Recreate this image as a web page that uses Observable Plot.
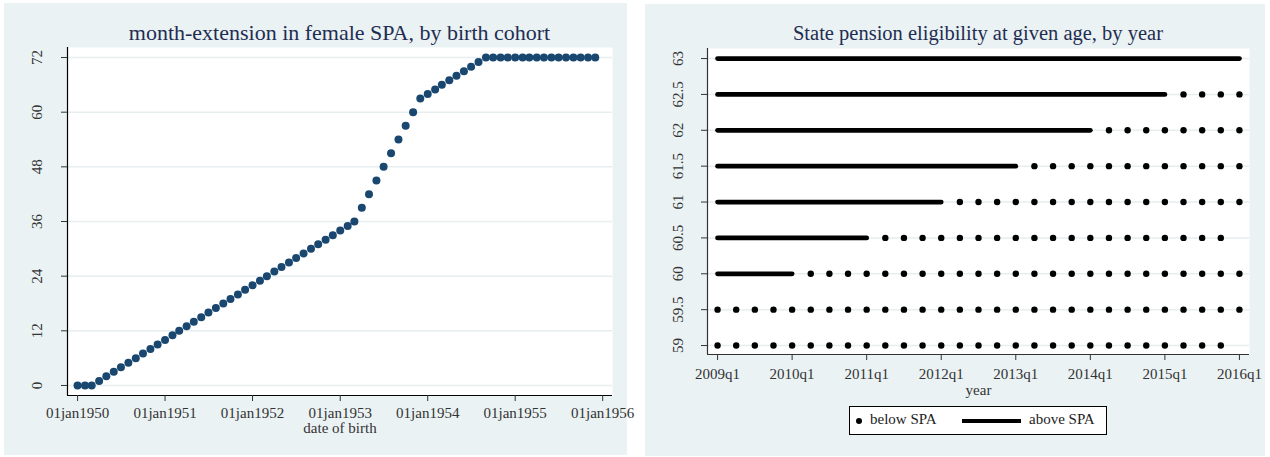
<!DOCTYPE html>
<html>
<head>
<meta charset="utf-8">
<script src="https://cdn.jsdelivr.net/npm/d3@7"></script>
<script src="https://cdn.jsdelivr.net/npm/@observablehq/plot@0.6"></script>
<style>
  html, body { margin: 0; padding: 0; background: #ffffff; }
  body { width: 1270px; height: 457px; position: relative; overflow: hidden; font-family: "Liberation Serif", "DejaVu Serif", serif; }
  .panel { position: absolute; background: #eaf2f3; }
  .title { position: absolute; text-align: center; color: #1f2d52; line-height: 26px; white-space: nowrap; }
  .plot { position: absolute; }
  .legend { position: absolute; background: #ffffff; border: 1px solid #000; box-sizing: border-box; font-size: 15px; color: #222; }
  .legend span { position: absolute; }
</style>
</head>
<body>
<div class="panel" id="pL" style="left:4px;top:3px;width:623px;height:452px;">
  <div class="title" id="tL" style="left:0;width:671px;top:17px;font-size:22px;"></div>
  <div class="plot" id="gL" style="left:0;top:34px;"></div>
</div>
<div class="panel" id="pR" style="left:645px;top:4px;width:620px;height:452px;">
  <div class="title" id="tR" style="left:0;width:666px;top:16px;font-size:20.5px;"></div>
  <div class="plot" id="gR" style="left:0;top:34px;"></div>
  <div class="legend" style="left:204px;top:402px;width:258px;height:29px;">
    <span style="left:6px;top:11px;width:6px;height:6px;border-radius:50%;background:#000;"></span>
    <span id="lgB" style="left:20px;top:4px;"></span>
    <span style="left:112px;top:12px;width:59px;height:4px;background:#000;"></span>
    <span id="lgA" style="left:179px;top:4px;"></span>
  </div>
</div>
<script>
// ---------- Left chart data: month-extension in female SPA, by birth cohort ----------
const leftTitle = "month-extension in female SPA, by birth cohort";
const leftXLabel = "date of birth";
const birthCohorts = [
  "1950-01-01","1950-02-01","1950-03-01","1950-04-01","1950-05-01","1950-06-01","1950-07-01","1950-08-01","1950-09-01","1950-10-01","1950-11-01","1950-12-01",
  "1951-01-01","1951-02-01","1951-03-01","1951-04-01","1951-05-01","1951-06-01","1951-07-01","1951-08-01","1951-09-01","1951-10-01","1951-11-01","1951-12-01",
  "1952-01-01","1952-02-01","1952-03-01","1952-04-01","1952-05-01","1952-06-01","1952-07-01","1952-08-01","1952-09-01","1952-10-01","1952-11-01","1952-12-01",
  "1953-01-01","1953-02-01","1953-03-01","1953-04-01","1953-05-01","1953-06-01","1953-07-01","1953-08-01","1953-09-01","1953-10-01","1953-11-01","1953-12-01",
  "1954-01-01","1954-02-01","1954-03-01","1954-04-01","1954-05-01","1954-06-01","1954-07-01","1954-08-01","1954-09-01","1954-10-01","1954-11-01","1954-12-01",
  "1955-01-01","1955-02-01","1955-03-01","1955-04-01","1955-05-01","1955-06-01","1955-07-01","1955-08-01","1955-09-01","1955-10-01","1955-11-01","1955-12-01"
];
const monthExtension = [
  0, 0, 0, 1, 2, 3, 4, 5, 6, 7, 8, 9,
  10, 11, 12, 13, 14, 15, 16, 17, 18, 19, 20, 21,
  22, 23, 24, 25, 26, 27, 28, 29, 30, 31, 32, 33,
  34, 35, 36, 39, 42, 45, 48, 51, 54, 57, 60, 63,
  64, 65, 66, 67, 68, 69, 70, 71, 72, 72, 72, 72,
  72, 72, 72, 72, 72, 72, 72, 72, 72, 72, 72, 72
];
const leftYTicks = [0, 12, 24, 36, 48, 60, 72];
const leftXTickDates = ["1950-01-01","1951-01-01","1952-01-01","1953-01-01","1954-01-01","1955-01-01","1956-01-01"];
const leftXTickLabels = ["01jan1950","01jan1951","01jan1952","01jan1953","01jan1954","01jan1955","01jan1956"];

// ---------- Right chart data: State pension eligibility at given age, by year ----------
const rightTitle = "State pension eligibility at given age, by year";
const rightXLabel = "year";
const quarters = [
  "2009q1","2009q2","2009q3","2009q4","2010q1","2010q2","2010q3","2010q4",
  "2011q1","2011q2","2011q3","2011q4","2012q1","2012q2","2012q3","2012q4",
  "2013q1","2013q2","2013q3","2013q4","2014q1","2014q2","2014q3","2014q4",
  "2015q1","2015q2","2015q3","2015q4","2016q1"
];
const ages = [63, 62.5, 62, 61.5, 61, 60.5, 60, 59.5, 59];
// status per quarter (grouped by year): A = above SPA, B = below SPA, - = no observation
const eligibility = [
  "AAAA|AAAA|AAAA|AAAA|AAAA|AAAA|AAAA|A",
  "AAAA|AAAA|AAAA|AAAA|AAAA|AAAA|ABBB|B",
  "AAAA|AAAA|AAAA|AAAA|AAAA|ABBB|BBBB|B",
  "AAAA|AAAA|AAAA|AAAA|ABBB|BBBB|BBBB|B",
  "AAAA|AAAA|AAAA|ABBB|BBBB|BBBB|BBBB|B",
  "AAAA|AAAA|ABBB|BBBB|BBBB|BBBB|BBBB|-",
  "AAAA|ABBB|BBBB|BBBB|BBBB|BBBB|BBBB|B",
  "BBBB|BBBB|BBBB|BBBB|BBBB|BBBB|BBBB|B",
  "BBBB|BBBB|BBBB|BBBB|BBBB|BBBB|BBBB|-"
];
const rightYTicks = [59, 59.5, 60, 60.5, 61, 61.5, 62, 62.5, 63];
const rightYTickLabels = ["59", "59.5", "60", "60.5", "61", "61.5", "62", "62.5", "63"];
const rightXTickLabels = ["2009q1","2010q1","2011q1","2012q1","2013q1","2014q1","2015q1","2016q1"];
const legendLabels = ["below SPA", "above SPA"];

// ---------- build tables ----------
const leftData = birthCohorts.map((d, i) => ({date: new Date(d), ext: monthExtension[i]}));
const rightRows = [];
ages.forEach((age, r) => {
  const s = eligibility[r].replace(/\|/g, "");
  for (let q = 0; q < s.length; q++) rightRows.push({age, q, status: s[q]});
});
const aboveRows = rightRows.filter(d => d.status === "A");
const belowRows = rightRows.filter(d => d.status === "B");

const baseStyle = {background: "transparent", fontFamily: "'Liberation Serif', 'DejaVu Serif', serif", fontSize: "15px", color: "#333", overflow: "visible"};

// ---------- left plot ----------
const lxDomain = [new Date("1949-11-20"), new Date("1956-02-11")];
const lyDomain = [-2.2, 74.2];
const leftPlot = Plot.plot({
  width: 623, height: 418,
  marginTop: 10, marginBottom: 60, marginLeft: 63, marginRight: 15,
  style: baseStyle,
  x: {type: "utc", domain: lxDomain, axis: null},
  y: {domain: lyDomain, axis: null},
  marks: [
    Plot.frame({fill: "white", stroke: "none"}),
    Plot.gridY(leftYTicks, {stroke: "#e6eef0", strokeOpacity: 1, strokeWidth: 1.5}),
    Plot.dot(leftData, {x: "date", y: "ext", r: 4, fill: "#1a476f", stroke: "none"}),
    Plot.ruleX([lxDomain[0]], {stroke: "#000", strokeWidth: 1.2}),
    Plot.ruleY([lyDomain[0]], {stroke: "#000", strokeWidth: 1.2}),
    Plot.axisY(leftYTicks, {tickSize: 6, tickPadding: 20, tickRotate: -90, stroke: "#333", fill: "#333", label: null}),
    Plot.axisX(leftXTickDates.map(d => new Date(d)), {tickSize: 6, tickPadding: 6, stroke: "#333", fill: "#333", label: null,
      tickFormat: (d) => leftXTickLabels[leftXTickDates.indexOf(d3.utcFormat("%Y-%m-%d")(d))]}),
    Plot.text([leftXLabel], {frameAnchor: "bottom", dy: 37, fill: "#333", fontSize: 15})
  ]
});
document.getElementById("gL").appendChild(leftPlot);
document.getElementById("tL").textContent = leftTitle;

// ---------- right plot ----------
const rxDomain = [-0.54, 28.54];
const ryDomain = [58.875, 63.14];
const rightPlot = Plot.plot({
  width: 620, height: 370,
  marginTop: 10, marginBottom: 54, marginLeft: 62, marginRight: 16,
  style: baseStyle,
  x: {domain: rxDomain, axis: null},
  y: {domain: ryDomain, axis: null},
  marks: [
    Plot.frame({fill: "white", stroke: "none"}),
    Plot.gridY(rightYTicks, {stroke: "#e6eef0", strokeOpacity: 1, strokeWidth: 1.5}),
    Plot.line(aboveRows, {x: "q", y: "age", z: "age", stroke: "#000", strokeWidth: 4.8, strokeLinecap: "round"}),
    Plot.dot(belowRows, {x: "q", y: "age", r: 3.2, fill: "#000", stroke: "none"}),
    Plot.ruleX([rxDomain[0]], {stroke: "#333", strokeWidth: 1.2}),
    Plot.ruleY([ryDomain[0]], {stroke: "#333", strokeWidth: 1.2}),
    Plot.axisY(rightYTicks, {tickSize: 6, tickPadding: 19, tickRotate: -90, stroke: "#333", fill: "#333", label: null,
      tickFormat: (d) => rightYTickLabels[rightYTicks.indexOf(d)]}),
    Plot.axisX(rightXTickLabels.map(l => quarters.indexOf(l)), {tickSize: 6, tickPadding: 8, stroke: "#333", fill: "#333", label: null,
      tickFormat: (d) => quarters[d]}),
    Plot.text([rightXLabel], {frameAnchor: "bottom", dy: 40, fill: "#333", fontSize: 15})
  ]
});
document.getElementById("gR").appendChild(rightPlot);
document.getElementById("tR").textContent = rightTitle;
document.getElementById("lgB").textContent = legendLabels[0];
document.getElementById("lgA").textContent = legendLabels[1];
</script>
</body>
</html>
